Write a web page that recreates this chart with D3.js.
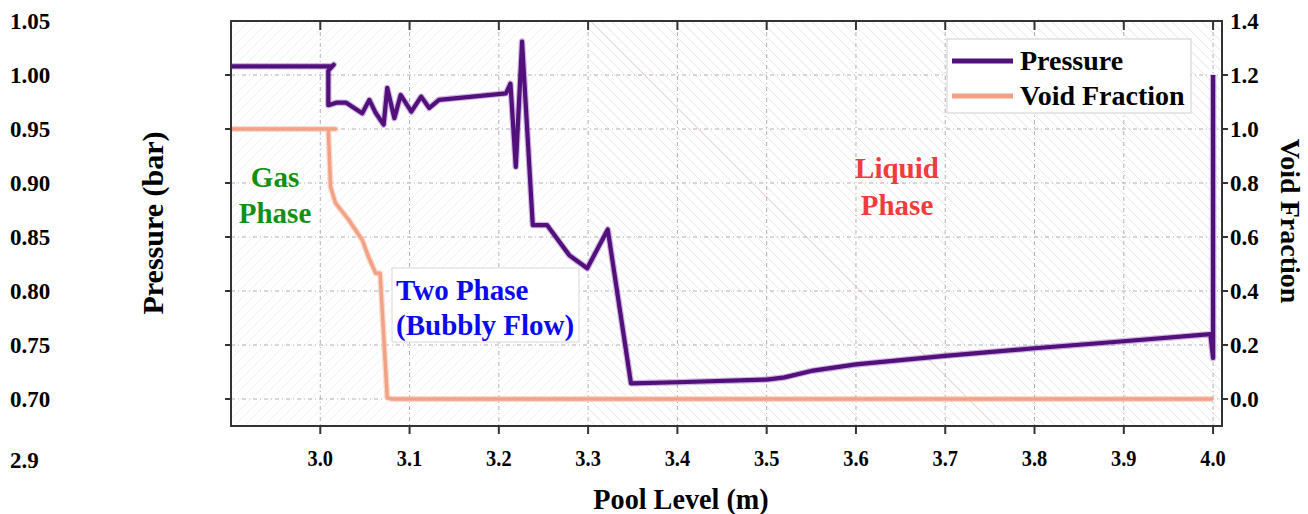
<!DOCTYPE html>
<html><head><meta charset="utf-8">
<script src="https://cdn.jsdelivr.net/npm/d3@7"></script>
<style>
body{margin:0;background:#fff}
svg{display:block}
text{font-family:"Liberation Serif","Times New Roman",serif;font-weight:bold}
</style>
</head><body>
<svg id="c" width="1308" height="514"></svg>
<script>
// ---------- data ----------
const pressureLevel = [2.9, 3.013, 3.015, 3.009, 3.009, 3.018, 3.029, 3.047, 3.055, 3.062, 3.071, 3.075, 3.083, 3.090, 3.102, 3.113, 3.122, 3.133, 3.208, 3.213, 3.219, 3.226, 3.238, 3.254, 3.279, 3.299, 3.322, 3.348, 3.40, 3.50, 3.52, 3.55, 3.60, 3.70, 3.80, 3.90, 3.997, 4.0, 4.0];
const pressureValue = [1.008, 1.008, 1.0095, 1.004, 0.972, 0.9744, 0.9744, 0.9645, 0.977, 0.965, 0.954, 0.988, 0.960, 0.9815, 0.966, 0.980, 0.9694, 0.977, 0.983, 0.992, 0.915, 1.031, 0.861, 0.861, 0.833, 0.821, 0.857, 0.7145, 0.7155, 0.718, 0.720, 0.726, 0.732, 0.740, 0.747, 0.7535, 0.760, 0.738, 1.000];
const voidLevel = [2.9, 3.017, 3.009, 3.0115, 3.017, 3.032, 3.047, 3.054, 3.062, 3.067, 3.075, 3.080, 4.0];
const voidValue = [1.0, 1.0, 1.0, 0.786, 0.726, 0.663, 0.589, 0.527, 0.466, 0.466, 0.005, 0.0, 0.0];
const xTicks = [3.0, 3.1, 3.2, 3.3, 3.4, 3.5, 3.6, 3.7, 3.8, 3.9, 4.0];
const pressureTicks = [0.70, 0.75, 0.80, 0.85, 0.90, 0.95, 1.00, 1.05];
const voidTicks = [0.0, 0.2, 0.4, 0.6, 0.8, 1.0, 1.2, 1.4];
const seriesNames = ["Pressure", "Void Fraction"];
const seriesColors = ["#52107a", "#f2a284"];

// ---------- layout ----------
const L = 231, R = 1222, T = 21, B = 426;
const svg = d3.select("#c");
const x = d3.scaleLinear().domain([2.9, 4.01]).range([L, R]);
const yP = d3.scaleLinear().domain([0.675, 1.05]).range([B, T]);
const yV = d3.scaleLinear().domain([-0.1, 1.4]).range([B, T]);

// hatching patterns
const defs = svg.append("defs");
function hatch(id, dir) {
  const p = defs.append("pattern").attr("id", id).attr("patternUnits", "userSpaceOnUse")
    .attr("width", 10).attr("height", 10);
  if (dir > 0) p.append("path").attr("d", "M-1,11 L11,-1 M-6,6 L6,-6 M4,16 L16,4");
  else p.append("path").attr("d", "M-1,-1 L11,11 M-6,4 L6,16 M4,-6 L16,6");
  p.select("path").attr("stroke", "#e2e2e2").attr("stroke-width", 0.8).attr("fill", "none");
}
hatch("hL", 1); hatch("hR", -1);
const xSplit = x(3.3) + 2;
svg.append("rect").attr("x", L).attr("y", T).attr("width", xSplit - L).attr("height", B - T).attr("fill", "url(#hL)").attr("opacity", 0.6);
svg.append("rect").attr("x", xSplit).attr("y", T).attr("width", R - xSplit).attr("height", B - T).attr("fill", "url(#hR)");
// faint stray diagonal
svg.append("line").attr("x1", xSplit).attr("y1", T).attr("x2", xSplit + (B - T)).attr("y2", B)
  .attr("stroke", "#f3b0a8").attr("stroke-width", 1).attr("opacity", 0.5);

// grid
const g = svg.append("g");
g.selectAll(".gh").data(pressureTicks.filter(d => d < 1.05)).enter().append("line")
  .attr("x1", L).attr("x2", R).attr("y1", d => yP(d)).attr("y2", d => yP(d))
  .attr("stroke", "#b0b0b0").attr("stroke-width", 1).attr("stroke-dasharray", "4,3,1,3");
g.selectAll(".gv").data(xTicks).enter().append("line")
  .attr("y1", T).attr("y2", B).attr("x1", d => x(d)).attr("x2", d => x(d))
  .attr("stroke", "#b0b0b0").attr("stroke-width", 1).attr("stroke-dasharray", "4,3,1,3");

// annotation box for two phase
svg.append("rect").attr("x", 392).attr("y", 268).attr("width", 187).attr("height", 74)
  .attr("fill", "#fff").attr("stroke", "#d8d8d8").attr("stroke-width", 1);

// lines
const pData = pressureLevel.map((v, i) => [v, pressureValue[i]]);
const vData = voidLevel.map((v, i) => [v, voidValue[i]]);
const lineP = d3.line().x(d => x(d[0])).y(d => yP(d[1]));
const lineV = d3.line().x(d => x(d[0])).y(d => yV(d[1]));
svg.append("path").attr("d", lineV(vData)).attr("fill", "none").attr("stroke", "#f6c2ad")
  .attr("stroke-width", 6).attr("stroke-linejoin", "round").attr("opacity", 0.6);
svg.append("path").attr("d", lineV(vData)).attr("fill", "none").attr("stroke", seriesColors[1])
  .attr("stroke-width", 3.5).attr("stroke-linejoin", "round");
svg.append("path").attr("d", lineP(pData)).attr("fill", "none").attr("stroke", "#9a5fbf")
  .attr("stroke-width", 6.5).attr("stroke-linejoin", "round").attr("opacity", 0.45);
svg.append("path").attr("d", lineP(pData)).attr("fill", "none").attr("stroke", seriesColors[0])
  .attr("stroke-width", 4.2).attr("stroke-linejoin", "round");

// frame
svg.append("rect").attr("x", L).attr("y", T).attr("width", R - L).attr("height", B - T)
  .attr("fill", "none").attr("stroke", "#333").attr("stroke-width", 2);

// ticks
const tk = svg.append("g").attr("stroke", "#333").attr("stroke-width", 2);
tk.selectAll(".tl").data(pressureTicks.filter(d => d < 1.05)).enter().append("line")
  .attr("x1", L - 6).attr("x2", L).attr("y1", d => yP(d)).attr("y2", d => yP(d));
tk.selectAll(".tr").data(voidTicks.filter(d => d < 1.4)).enter().append("line")
  .attr("x1", R).attr("x2", R + 6).attr("y1", d => yV(d)).attr("y2", d => yV(d));
tk.selectAll(".tb").data(xTicks).enter().append("line")
  .attr("x1", d => x(d)).attr("x2", d => x(d)).attr("y1", B).attr("y2", B + 8);
tk.selectAll(".tt").data(xTicks).enter().append("line")
  .attr("x1", d => x(d)).attr("x2", d => x(d)).attr("y1", T).attr("y2", T + 9);

// tick labels
svg.selectAll(".lp").data(pressureTicks).enter().append("text")
  .attr("x", 10).attr("y", d => yP(d)).attr("dy", "0.35em").attr("font-size", 23)
  .text(d => d.toFixed(2));
svg.append("text").attr("x", 10).attr("y", 460).attr("dy", "0.35em").attr("font-size", 23).text("2.9");
svg.selectAll(".lv").data(voidTicks).enter().append("text")
  .attr("x", 1230).attr("y", d => yV(d)).attr("dy", "0.35em").attr("font-size", 23)
  .text(d => d.toFixed(1));
svg.selectAll(".lx").data(xTicks).enter().append("text")
  .attr("transform", d => `translate(${x(d)},458) scale(0.85,1)`).attr("dy", "0.35em")
  .attr("text-anchor", "middle").attr("font-size", 24).text(d => d.toFixed(1));

// axis titles
svg.append("text").attr("transform", "translate(152,223) rotate(-90)").attr("text-anchor", "middle")
  .attr("dy", "0.35em").attr("font-size", 30).text("Pressure (bar)");
svg.append("text").attr("transform", "translate(1291,221) rotate(90)").attr("text-anchor", "middle")
  .attr("dy", "0.35em").attr("font-size", 28).text("Void Fraction");
svg.append("text").attr("transform", "translate(681,498) scale(0.94,1)").attr("text-anchor", "middle")
  .attr("dy", "0.35em").attr("font-size", 30).text("Pool Level (m)");

// region labels
const ann = [
  {t: ["Gas", "Phase"], x: 275, y: [187, 223], c: "#129012", fs: 29},
  {t: ["Liquid", "Phase"], x: 897, y: [178, 215], c: "#f03c3c", fs: 29},
];
ann.forEach(a => a.t.forEach((s, i) => svg.append("text").attr("x", a.x).attr("y", a.y[i])
  .attr("text-anchor", "middle").attr("fill", a.c).attr("font-size", a.fs).text(s)));
svg.append("text").attr("x", 396).attr("y", 300).attr("fill", "#0a0af0").attr("font-size", 29).text("Two Phase");
svg.append("text").attr("x", 396).attr("y", 335).attr("fill", "#0a0af0").attr("font-size", 29).text("(Bubbly Flow)");

// legend
const lg = svg.append("g");
lg.append("rect").attr("x", 947).attr("y", 39).attr("width", 244).attr("height", 74)
  .attr("fill", "#fff").attr("stroke", "#cfcfcf").attr("stroke-width", 1);
seriesNames.forEach((s, i) => {
  const yy = 61 + i * 35;
  lg.append("line").attr("x1", 952).attr("x2", 1013).attr("y1", yy).attr("y2", yy)
    .attr("stroke", seriesColors[i]).attr("stroke-width", 5);
  lg.append("text").attr("x", 1020).attr("y", yy).attr("dy", "0.33em").attr("font-size", 28).text(s);
});
</script>
</body></html>
